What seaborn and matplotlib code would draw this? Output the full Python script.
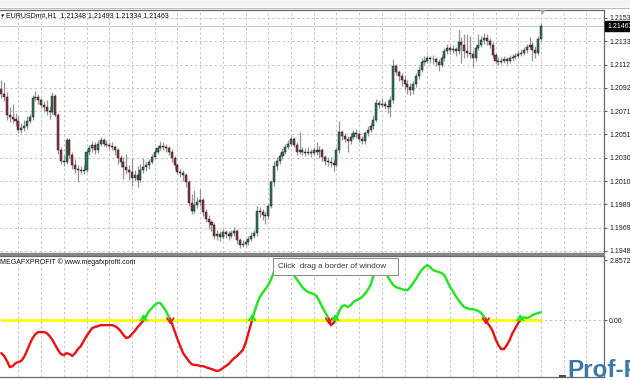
import numpy as np
import pandas as pd
import matplotlib
matplotlib.use("Agg")
import matplotlib.pyplot as plt
from matplotlib.patches import Rectangle
from matplotlib.lines import Line2D
import seaborn as sns

# ---------------- data ----------------
SYMBOL = "EURUSDm#,H1"
INDICATOR_NAME = "MEGAFXPROFIT \u00a9 www.megafxprofit.com"
TOOLTIP_TEXT = "Click  drag a border of window"
WATERMARK = "Prof-F"

opens = [
    1.2091, 1.2087, 1.2084, 1.2068, 1.2066, 1.2065, 1.2063, 1.2055, 1.2057, 1.2058,
    1.2063, 1.2066, 1.2083, 1.2084, 1.2081, 1.2077, 1.2075, 1.2072, 1.2071, 1.2085,
    1.2068, 1.2037, 1.2028, 1.2027, 1.2046, 1.2033, 1.2024, 1.2021, 1.2020, 1.2019,
    1.2020, 1.2036, 1.2039, 1.2042, 1.2037, 1.2043, 1.2046, 1.2043, 1.2042, 1.2041,
    1.2040, 1.2037, 1.2030, 1.2027, 1.2022, 1.2020, 1.2018, 1.2013, 1.2015, 1.2011,
    1.2020, 1.2022, 1.2024, 1.2027, 1.2031, 1.2036, 1.2039, 1.2041, 1.2040, 1.2039,
    1.2036, 1.2030, 1.2024, 1.2018, 1.2017, 1.2015, 1.2009, 1.1991, 1.1984, 1.1989,
    1.1992, 1.1993, 1.1983, 1.1977, 1.1974, 1.1971, 1.1962, 1.1963, 1.1961, 1.1965,
    1.1963, 1.1962, 1.1964, 1.1966, 1.1958, 1.1954, 1.1955, 1.1956, 1.1959, 1.1962,
    1.1964, 1.1984, 1.1983, 1.1980, 1.1979, 1.1988, 1.2009, 1.2023, 1.2028, 1.2032,
    1.2036, 1.2040, 1.2043, 1.2047, 1.2042, 1.2036, 1.2037, 1.2036, 1.2035, 1.2036,
    1.2035, 1.2037, 1.2036, 1.2037, 1.2031, 1.2028, 1.2027, 1.2026, 1.2024, 1.2037,
    1.2053, 1.2050, 1.2047, 1.2045, 1.2049, 1.2052, 1.2051, 1.2047, 1.2045, 1.2052,
    1.2055, 1.2058, 1.2064, 1.2079, 1.2077, 1.2078, 1.2076, 1.2075, 1.2081, 1.2111,
    1.2106, 1.2102, 1.2099, 1.2095, 1.2093, 1.2090, 1.2095, 1.2102, 1.2108, 1.2115,
    1.2116, 1.2118, 1.2117, 1.2117, 1.2115, 1.2112, 1.2118, 1.2124, 1.2127, 1.2125,
    1.2126, 1.2124, 1.2132, 1.2130, 1.2124, 1.2123, 1.2122, 1.2118, 1.2127, 1.2130,
    1.2134, 1.2136, 1.2133, 1.2130, 1.2121, 1.2116, 1.2115, 1.2116, 1.2117, 1.2116,
    1.2118, 1.2119, 1.2120, 1.2122, 1.2123, 1.2125, 1.2128, 1.2130, 1.2125, 1.2123,
    1.21348]

highs = [
    1.2099, 1.2097, 1.2088, 1.2075, 1.2078, 1.2070, 1.2067, 1.2061, 1.2064, 1.2067,
    1.2069, 1.2086, 1.2089, 1.2087, 1.2083, 1.2080, 1.2081, 1.2076, 1.2088, 1.2087,
    1.2070, 1.2040, 1.2033, 1.2048, 1.2048, 1.2036, 1.2029, 1.2024, 1.2023, 1.2024,
    1.2038, 1.2042, 1.2045, 1.2044, 1.2046, 1.2049, 1.2048, 1.2046, 1.2044, 1.2044,
    1.2042, 1.2039, 1.2033, 1.2031, 1.2034, 1.2024, 1.2030, 1.2020, 1.2023, 1.2025,
    1.2030, 1.2027, 1.2029, 1.2034, 1.2039, 1.2042, 1.2045, 1.2044, 1.2043, 1.2041,
    1.2038, 1.2032, 1.2026, 1.2021, 1.2020, 1.2017, 1.2011, 1.1999, 1.2002, 1.1996,
    1.2003, 1.1995, 1.1985, 1.1980, 1.1976, 1.1973, 1.1967, 1.1966, 1.1968, 1.1967,
    1.1966, 1.1967, 1.1970, 1.1968, 1.1960, 1.1958, 1.1959, 1.1962, 1.1965, 1.1967,
    1.1988, 1.1987, 1.1985, 1.1983, 1.1990, 1.2011, 1.2028, 1.2031, 1.2035, 1.2039,
    1.2043, 1.2046, 1.2050, 1.2049, 1.2044, 1.2053, 1.2040, 1.2039, 1.2040, 1.2038,
    1.2040, 1.2044, 1.2041, 1.2039, 1.2033, 1.2031, 1.2031, 1.2029, 1.2040, 1.2063,
    1.2055, 1.2052, 1.2050, 1.2052, 1.2055, 1.2056, 1.2053, 1.2050, 1.2054, 1.2058,
    1.2061, 1.2068, 1.2082, 1.2081, 1.2083, 1.2080, 1.2081, 1.2085, 1.2117, 1.2113,
    1.2108, 1.2105, 1.2103, 1.2099, 1.2096, 1.2098, 1.2105, 1.2111, 1.2118, 1.2120,
    1.2121, 1.2120, 1.2121, 1.2119, 1.2117, 1.2121, 1.2127, 1.2131, 1.2130, 1.2130,
    1.2128, 1.2143, 1.2137, 1.2139, 1.2139, 1.2138, 1.2125, 1.2130, 1.2139, 1.2138,
    1.2140, 1.2139, 1.2136, 1.2132, 1.2123, 1.2119, 1.2119, 1.2120, 1.2119, 1.2121,
    1.2122, 1.2123, 1.2125, 1.2126, 1.2128, 1.2131, 1.2137, 1.2132, 1.2129, 1.2138,
    1.21493]

lows = [
    1.2083, 1.2080, 1.2064, 1.2062, 1.2061, 1.2058, 1.2052, 1.2052, 1.2054, 1.2056,
    1.2061, 1.2064, 1.2080, 1.2078, 1.2074, 1.2071, 1.2068, 1.2065, 1.2069, 1.2066,
    1.2034, 1.2025, 1.2023, 1.2025, 1.2030, 1.2021, 1.2017, 1.2009, 1.2016, 1.2016,
    1.2018, 1.2033, 1.2036, 1.2034, 1.2035, 1.2041, 1.2041, 1.2040, 1.2038, 1.2037,
    1.2033, 1.2025, 1.2022, 1.2012, 1.2016, 1.2011, 1.2006, 1.2010, 1.2005, 1.2009,
    1.2017, 1.2019, 1.2021, 1.2025, 1.2029, 1.2034, 1.2037, 1.2037, 1.2036, 1.2033,
    1.2027, 1.2021, 1.2016, 1.2014, 1.2010, 1.2005, 1.1988, 1.1981, 1.1982, 1.1986,
    1.1988, 1.1979, 1.1974, 1.1968, 1.1966, 1.1959, 1.1958, 1.1957, 1.1959, 1.1960,
    1.1958, 1.1960, 1.1962, 1.1955, 1.1951, 1.1952, 1.1953, 1.1954, 1.1957, 1.1960,
    1.1962, 1.1978, 1.1976, 1.1972, 1.1977, 1.1986, 1.2006, 1.2020, 1.2025, 1.2029,
    1.2034, 1.2038, 1.2041, 1.2040, 1.2033, 1.2034, 1.2033, 1.2032, 1.2033, 1.2031,
    1.2033, 1.2033, 1.2030, 1.2028, 1.2024, 1.2023, 1.2022, 1.2019, 1.2022, 1.2035,
    1.2046, 1.2044, 1.2036, 1.2043, 1.2047, 1.2048, 1.2044, 1.2043, 1.2043, 1.2050,
    1.2053, 1.2056, 1.2062, 1.2074, 1.2075, 1.2073, 1.2070, 1.2066, 1.2079, 1.2103,
    1.2098, 1.2094, 1.2090, 1.2087, 1.2086, 1.2087, 1.2093, 1.2100, 1.2106, 1.2112,
    1.2114, 1.2114, 1.2113, 1.2111, 1.2107, 1.2110, 1.2116, 1.2122, 1.2122, 1.2123,
    1.2120, 1.2122, 1.2114, 1.2118, 1.2119, 1.2118, 1.2110, 1.2116, 1.2125, 1.2128,
    1.2131, 1.2130, 1.2127, 1.2118, 1.2113, 1.2112, 1.2113, 1.2114, 1.2113, 1.2114,
    1.2116, 1.2117, 1.2118, 1.2120, 1.2121, 1.2123, 1.2126, 1.2116, 1.2118, 1.2121,
    1.21334]

closes = [
    1.2087, 1.2084, 1.2068, 1.2066, 1.2065, 1.2063, 1.2055, 1.2057, 1.2058, 1.2063,
    1.2066, 1.2083, 1.2084, 1.2081, 1.2077, 1.2075, 1.2072, 1.2071, 1.2085, 1.2068,
    1.2037, 1.2028, 1.2027, 1.2046, 1.2033, 1.2024, 1.2021, 1.2020, 1.2019, 1.2020,
    1.2036, 1.2039, 1.2042, 1.2037, 1.2043, 1.2046, 1.2043, 1.2042, 1.2041, 1.2040,
    1.2037, 1.2030, 1.2027, 1.2022, 1.2020, 1.2018, 1.2013, 1.2015, 1.2011, 1.2020,
    1.2022, 1.2024, 1.2027, 1.2031, 1.2036, 1.2039, 1.2041, 1.2040, 1.2039, 1.2036,
    1.2030, 1.2024, 1.2018, 1.2017, 1.2015, 1.2009, 1.1991, 1.1984, 1.1989, 1.1992,
    1.1993, 1.1983, 1.1977, 1.1974, 1.1971, 1.1962, 1.1963, 1.1961, 1.1965, 1.1963,
    1.1962, 1.1964, 1.1966, 1.1958, 1.1954, 1.1955, 1.1956, 1.1959, 1.1962, 1.1964,
    1.1984, 1.1983, 1.1980, 1.1979, 1.1988, 1.2009, 1.2023, 1.2028, 1.2032, 1.2036,
    1.2040, 1.2043, 1.2047, 1.2042, 1.2036, 1.2037, 1.2036, 1.2035, 1.2036, 1.2035,
    1.2037, 1.2036, 1.2037, 1.2031, 1.2028, 1.2027, 1.2026, 1.2024, 1.2037, 1.2053,
    1.2050, 1.2047, 1.2045, 1.2049, 1.2052, 1.2051, 1.2047, 1.2045, 1.2052, 1.2055,
    1.2058, 1.2064, 1.2079, 1.2077, 1.2078, 1.2076, 1.2075, 1.2081, 1.2111, 1.2106,
    1.2102, 1.2099, 1.2095, 1.2093, 1.2090, 1.2095, 1.2102, 1.2108, 1.2115, 1.2116,
    1.2118, 1.2117, 1.2117, 1.2115, 1.2112, 1.2118, 1.2124, 1.2127, 1.2125, 1.2126,
    1.2124, 1.2132, 1.2130, 1.2124, 1.2123, 1.2122, 1.2118, 1.2127, 1.2130, 1.2134,
    1.2136, 1.2133, 1.2130, 1.2121, 1.2116, 1.2115, 1.2116, 1.2117, 1.2116, 1.2118,
    1.2119, 1.2120, 1.2122, 1.2123, 1.2125, 1.2128, 1.2130, 1.2125, 1.2123, 1.21348,
    1.21463]

indicator = [
    -1.57, -1.71, -1.95, -2.24, -2.19, -2.05, -2.00, -1.95, -1.76, -1.48,
    -1.14, -0.86, -0.67, -0.57, -0.57, -0.57, -0.62, -0.76, -0.95, -1.19,
    -1.43, -1.62, -1.67, -1.57, -1.62, -1.71, -1.57, -1.38, -1.24, -1.00,
    -0.76, -0.57, -0.38, -0.33, -0.29, -0.24, -0.24, -0.24, -0.24, -0.24,
    -0.29, -0.38, -0.52, -0.71, -0.86, -0.81, -0.67, -0.52, -0.33, -0.19,
    -0.02, 0.19, 0.43, 0.57, 0.71, 0.81, 0.81, 0.62, 0.43, 0.14,
    -0.14, -0.52, -0.90, -1.24, -1.57, -1.76, -1.95, -2.10, -2.14, -2.14,
    -2.19, -2.19, -2.24, -2.29, -2.33, -2.38, -2.43, -2.38, -2.29, -2.19,
    -2.10, -1.95, -1.81, -1.71, -1.57, -1.43, -1.10, -0.62, -0.14, 0.33,
    0.76, 1.10, 1.29, 1.48, 1.67, 1.95, 2.29, 2.52, 2.71, 2.81,
    2.81, 2.67, 2.38, 2.14, 1.95, 1.76, 1.57, 1.43, 1.33, 1.29,
    1.24, 1.14, 0.90, 0.62, 0.38, 0.14, -0.24, -0.14, 0.10, 0.43,
    0.67, 0.71, 0.62, 0.71, 0.86, 0.95, 1.00, 1.10, 1.24, 1.43,
    1.67, 2.10, 2.48, 2.71, 2.76, 2.48, 2.10, 1.86, 1.67, 1.57,
    1.52, 1.48, 1.43, 1.43, 1.57, 1.76, 1.95, 2.19, 2.38, 2.52,
    2.62, 2.52, 2.38, 2.33, 2.29, 2.24, 2.14, 1.86, 1.57, 1.38,
    1.14, 0.95, 0.76, 0.62, 0.57, 0.52, 0.52, 0.48, 0.43, 0.33,
    0.14, -0.10, -0.29, -0.52, -0.90, -1.19, -1.38, -1.38, -1.19, -0.95,
    -0.62, -0.38, -0.14, 0.05, 0.14, 0.10, 0.14, 0.24, 0.29, 0.33,
    0.38]

price_ticks = [1.21535, 1.21330, 1.21125, 1.20920, 1.20715, 1.20510,
               1.20305, 1.20100, 1.19895, 1.19690, 1.19485]
indicator_ticks = [2.85723, 0.0]
indicator_tick_labels = ["2.85723", "0.00"]
bid_price = 1.21463

# ---------------- styling ----------------
sns.set_theme(style="white")
plt.rcParams['font.family'] = ['Liberation Sans', 'DejaVu Sans']

W, H = 630, 380
def fx(px):
    return px / W
def fy(py):
    return 1 - py / H

fig = plt.figure(figsize=(6.3, 3.8), dpi=100)
fig.patch.set_facecolor('white')

ax = fig.add_axes([0, fy(253), fx(604), (253 - 10) / H])
axi = fig.add_axes([0, fy(377), fx(604), (377 - 256) / H])

n = len(closes)
bars = np.arange(n)
XMIN, XMAX = -0.46, 212.2
grid_x = np.arange(6, 212, 8)

LABEL_FS = 5.0

def style_axes(a):
    a.set_facecolor('white')
    a.set_xlim(XMIN, XMAX)
    a.set_xticks(grid_x)
    a.tick_params(axis='x', length=0, labelbottom=False, bottom=False)
    a.yaxis.tick_right()
    a.tick_params(axis='y', right=True, left=False, length=2.5, width=0.6,
                  color='#404040', pad=1.2, labelsize=LABEL_FS,
                  labelcolor='#1a1a1a')
    a.spines['left'].set_visible(False)
    for s in ['top', 'right', 'bottom']:
        a.spines[s].set_color('#6a6a6a')
        a.spines[s].set_linewidth(0.9)

style_axes(ax)
style_axes(axi)

# ---- main price panel ----
ax.set_ylim(1.19467, 1.21605)
ax.set_yticks(price_ticks)
ax.set_yticklabels([f"{t:.5f}" for t in price_ticks])
ax.grid(True, color='#c6c6c6', linestyle=(0, (2.5, 2.5)), linewidth=0.7)
ax.set_axisbelow(True)

o = np.array(opens)
h = np.array(highs)
l = np.array(lows)
c = np.array(closes)
up = c >= o

ax.axhline(bid_price, color='#c9c9c9', linewidth=0.8, zorder=1)
ax.vlines(bars, l, h, color='#969696', linewidth=0.9, zorder=2)
body_bottom = np.minimum(o, c)
body_h = np.maximum(np.abs(c - o), 0.00003)
body_colors = np.where(up, '#2a7464', '#8f3333')
ax.bar(bars, body_h, bottom=body_bottom, width=0.72, color=body_colors,
       edgecolor='#262626', linewidth=0.35, zorder=3)

# bid price label box
ax.annotate(f"{bid_price:.5f}", xy=(1, bid_price),
            xycoords=ax.get_yaxis_transform(), xytext=(2.2, 0),
            textcoords='offset points', va='center', ha='left',
            fontsize=LABEL_FS, color='white',
            bbox=dict(boxstyle='square,pad=0.25', fc='black', ec='black'),
            annotation_clip=False, zorder=10)

# chart-shift marker
ax.scatter([bars[-1] + 0.5], [0.99], transform=ax.get_xaxis_transform(),
           marker='v', s=14, color='#a8a8a8', clip_on=False, zorder=5,
           linewidths=0)

# header text
ax.text(6 / 604, (253 - 16) / 243,
        f"{SYMBOL}  {opens[-1]:.5f} {highs[-1]:.5f} {lows[-1]:.5f} {closes[-1]:.5f}",
        transform=ax.transAxes, fontsize=LABEL_FS, color='#111111',
        va='center', ha='left', zorder=6)
ax.text(1.2 / 604, (253 - 16) / 243, "\u25bc", transform=ax.transAxes,
        fontsize=3, color='#111111', va='center', ha='left',
        family=['DejaVu Sans'])

# ---- indicator panel ----
axi.set_ylim(-2.71, 3.05)
axi.set_yticks(indicator_ticks)
axi.set_yticklabels(indicator_tick_labels)
axi.xaxis.grid(True, color='#c6c6c6', linestyle=(0, (2.5, 2.5)), linewidth=0.7)
axi.yaxis.grid(False)
axi.set_axisbelow(True)
axi.axhline(0, color='#c6c6c6', linestyle=(0, (2.5, 2.5)), linewidth=0.7,
            zorder=0)
axi.hlines(0, bars[0], bars[-1], color='#ffff00', linewidth=2.0, zorder=1)

ind = np.array(indicator)
rows = []
crossings = []
run = 0
side = 'up' if ind[0] >= 0 else 'down'
rows.append((bars[0], ind[0], run, side))
for i in range(1, n):
    v0, v1 = ind[i - 1], ind[i]
    s1 = 'up' if v1 >= 0 else 'down'
    if s1 != side:
        xc = bars[i - 1] + v0 / (v0 - v1)
        rows.append((xc, 0.0, run, side))
        crossings.append((xc, s1))
        run += 1
        side = s1
        rows.append((xc, 0.0, run, side))
    rows.append((bars[i], v1, run, side))
df = pd.DataFrame(rows, columns=['bar', 'value', 'run', 'side'])

sns.lineplot(data=df, x='bar', y='value', hue='side', units='run',
             estimator=None, sort=False, linewidth=1.7, legend=False,
             palette={'up': '#1ee61e', 'down': '#f01010'}, ax=axi, zorder=3)
axi.set_xlabel('')
axi.set_ylabel('')
axi.set_xlim(XMIN, XMAX)

for xc, s in crossings:
    if s == 'up':
        axi.annotate('', xy=(xc, 0.42), xytext=(xc, -0.15),
                     arrowprops=dict(arrowstyle='->,head_length=0.3,head_width=0.2',
                                     color='#1ee61e', lw=1.2), zorder=4)
    else:
        axi.annotate('', xy=(xc, -0.35), xytext=(xc, 0.22),
                     arrowprops=dict(arrowstyle='->,head_length=0.3,head_width=0.2',
                                     color='#f01010', lw=1.2), zorder=4)

axi.text(0.5 / 604, (377 - 262) / 121, INDICATOR_NAME, transform=axi.transAxes,
         fontsize=LABEL_FS, color='#111111', va='center', ha='left', zorder=6)

# ---- window decorations ----
fig.add_artist(Rectangle((0, fy(7)), 1, 7 / H, transform=fig.transFigure,
                         facecolor='#f3f3f3', edgecolor='none', zorder=0))
fig.add_artist(Line2D([0, 1], [fy(7.5), fy(7.5)], transform=fig.transFigure,
                      color='#bdbdbd', linewidth=0.8))
fig.add_artist(Rectangle((0, fy(256)), fx(605), 3 / H, transform=fig.transFigure,
                         facecolor='#858585', edgecolor='none', zorder=5))

# tooltip
fig.add_artist(Rectangle((fx(274), fy(276)), fx(125), 17 / H,
                         transform=fig.transFigure, facecolor='#d0d0d0',
                         edgecolor='none', zorder=19))
fig.add_artist(Rectangle((fx(272.5), fy(274.5)), fx(125), 17 / H,
                         transform=fig.transFigure, facecolor='white',
                         edgecolor='#8f8f8f', linewidth=0.8, zorder=20))
fig.text(fx(278), fy(266.5), TOOLTIP_TEXT, fontsize=5.8, color='#3a3a3a',
         va='center', ha='left', zorder=21)

# watermark
fig.add_artist(Rectangle((fx(559), fy(377)), fx(7), 2.5 / H,
                         transform=fig.transFigure, facecolor='#4a4a4a',
                         edgecolor='none', zorder=22))
fig.text(fx(567), fy(377), WATERMARK, fontsize=17.5, fontweight='bold',
         color='#3b78ab', ha='left', va='baseline', zorder=22)

fig.savefig("out.png", dpi=100, facecolor=fig.get_facecolor())
